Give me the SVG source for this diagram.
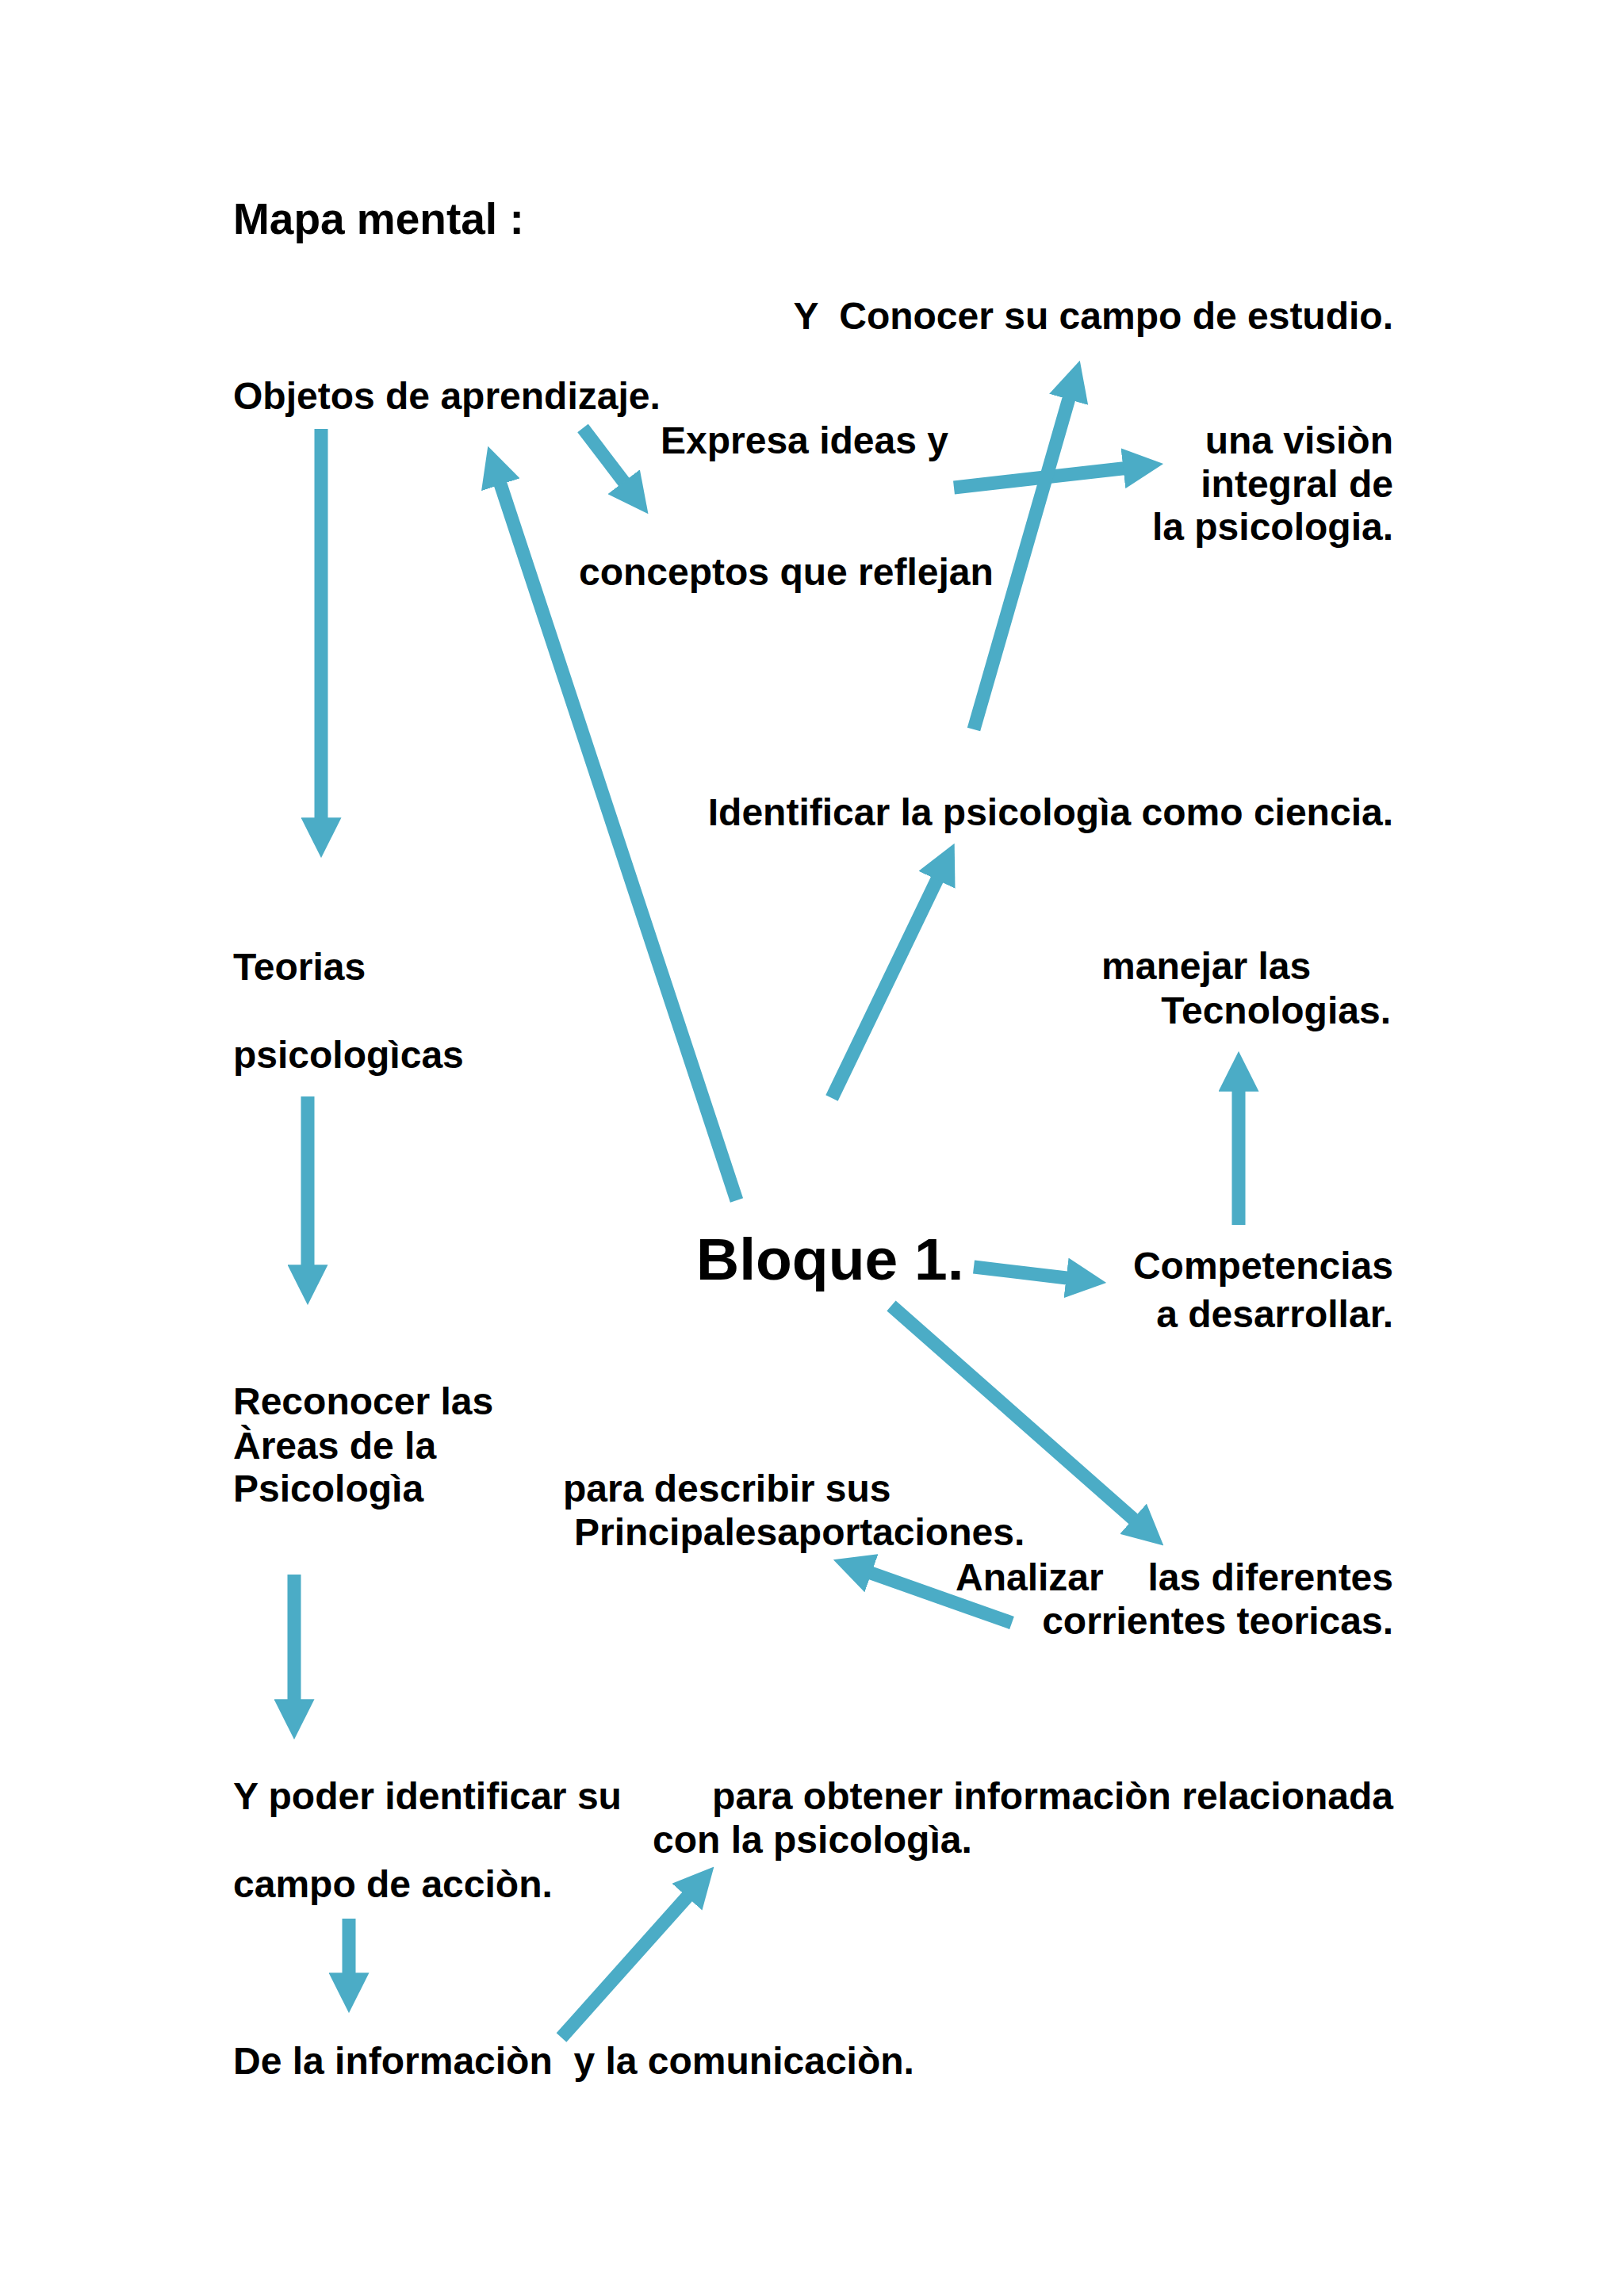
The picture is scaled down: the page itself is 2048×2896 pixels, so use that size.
<svg xmlns="http://www.w3.org/2000/svg" width="2048" height="2896" viewBox="0 0 2048 2896">
<defs>
<style>
text{font-family:"Liberation Sans",Arial,sans-serif;font-weight:bold;fill:#000;font-size:48px}
.t{font-size:55px}
.big{font-size:75px}
.r{text-anchor:end}
.c line{stroke:#4BACC6;stroke-width:17;stroke-linecap:butt;marker-end:url(#ah)}
</style>
<marker id="ah" markerUnits="strokeWidth" markerWidth="3" markerHeight="3" viewBox="0 0 3 3" refX="0.05" refY="1.5" orient="auto">
<path d="M0,0 L3,1.5 L0,3 Z" fill="#4BACC6"/>
</marker>
</defs>
<rect width="2048" height="2896" fill="#fff"/>
<g id="connectors" class="c">
<line x1="405" y1="541" x2="405" y2="1032"/>
<line x1="735" y1="540" x2="787.1" y2="608.4"/>
<line x1="929" y1="1514" x2="631" y2="610.4"/>
<line x1="1203" y1="615" x2="1417.3" y2="590.7"/>
<line x1="1228" y1="920" x2="1347.9" y2="503"/>
<line x1="1049" y1="1385" x2="1181.9" y2="1109"/>
<line x1="388" y1="1383" x2="388" y2="1596"/>
<line x1="1562" y1="1545" x2="1562" y2="1376"/>
<line x1="1228" y1="1598" x2="1345.4" y2="1612"/>
<line x1="1124" y1="1647" x2="1429.7" y2="1916.3"/>
<line x1="1276" y1="2047" x2="1098.1" y2="1984"/>
<line x1="371" y1="1986" x2="371" y2="2144"/>
<line x1="440" y1="2420" x2="440" y2="2489"/>
<line x1="708" y1="2570" x2="867" y2="2392"/>
</g>
<g id="title"><text class="t" x="294" y="295">Mapa mental :</text></g>
<g id="conocer"><text class="r" x="1757" y="415" xml:space="preserve">Y  Conocer su campo de estudio.</text></g>
<g id="objetos"><text x="294" y="516">Objetos de aprendizaje.</text></g>
<g id="expresa"><text x="833" y="572">Expresa ideas y</text></g>
<g id="vision">
<text class="r" x="1757" y="572">una visiòn</text>
<text class="r" x="1757" y="627">integral de</text>
<text class="r" x="1757" y="681">la psicologia.</text>
</g>
<g id="conceptos"><text x="730" y="738">conceptos que reflejan</text></g>
<g id="identificar"><text class="r" x="1757" y="1041">Identificar la psicologìa como ciencia.</text></g>
<g id="teorias">
<text x="294" y="1236">Teorias</text>
<text x="294" y="1347">psicologìcas</text>
</g>
<g id="manejar">
<text x="1389" y="1235">manejar las</text>
<text class="r" x="1754" y="1291">Tecnologias.</text>
</g>
<g id="bloque"><text class="big" x="878" y="1614">Bloque 1.</text></g>
<g id="competencias">
<text class="r" x="1757" y="1613">Competencias</text>
<text class="r" x="1757" y="1674">a desarrollar.</text>
</g>
<g id="reconocer">
<text x="294" y="1784">Reconocer las</text>
<text x="294" y="1840">Àreas de la</text>
<text x="294" y="1894">Psicologìa</text>
</g>
<g id="describir">
<text x="710" y="1894">para describir sus</text>
<text x="724" y="1949">Principalesaportaciones.</text>
</g>
<g id="analizar">
<text x="1205" y="2006">Analizar <tspan class="r" x="1757">las diferentes</tspan></text>
<text class="r" x="1757" y="2061">corrientes teoricas.</text>
</g>
<g id="poder">
<text x="294" y="2282">Y poder identificar su</text>
<text x="294" y="2393">campo de acciòn.</text>
</g>
<g id="obtener">
<text class="r" x="1757" y="2282">para obtener informaciòn relacionada</text>
<text x="823" y="2337">con la psicologìa.</text>
</g>
<g id="informacion"><text x="294" y="2616" xml:space="preserve">De la informaciòn  y la comunicaciòn.</text></g>
</svg>
